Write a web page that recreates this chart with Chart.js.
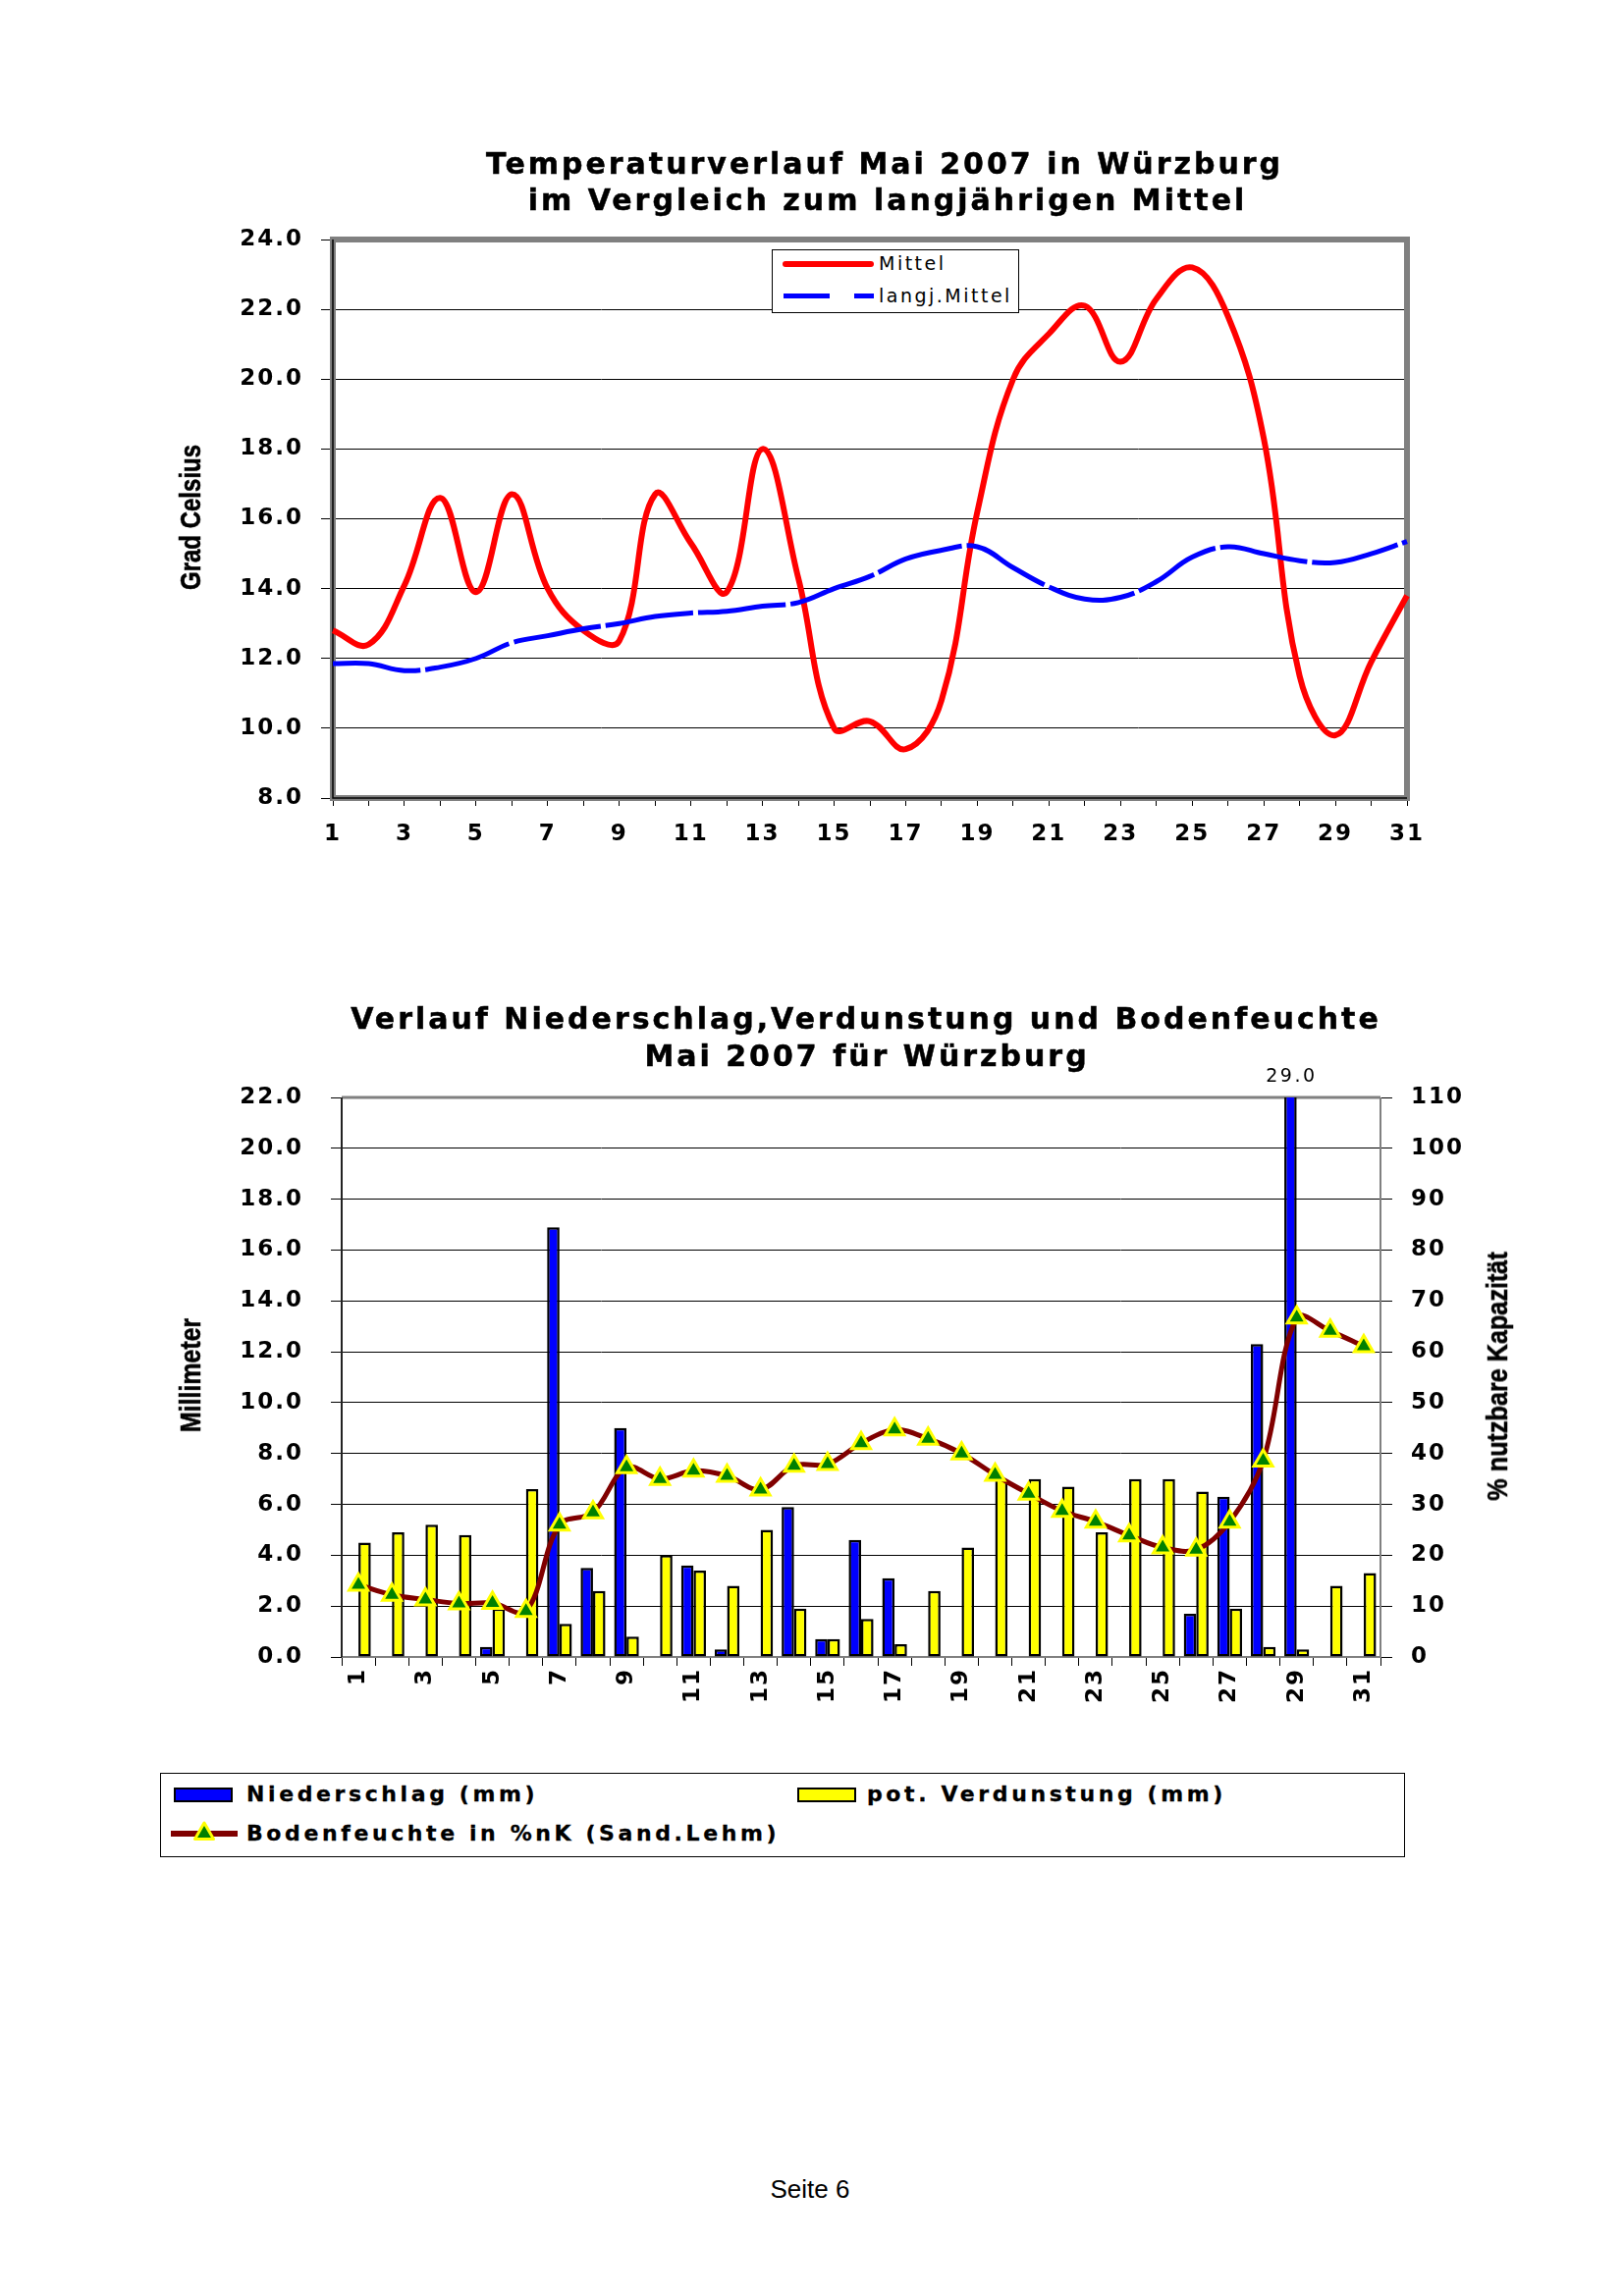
<!DOCTYPE html>
<html>
<head>
<meta charset="utf-8">
<title>Mai 2007 Würzburg</title>
<script src="https://cdn.jsdelivr.net/npm/chart.js@4.4.1/dist/chart.umd.min.js"></script>
<style>
  html, body { margin: 0; padding: 0; background: #fff; }
  #page { position: relative; width: 1653px; height: 2339px; overflow: hidden; background: #fff;
          font-family: "DejaVu Sans", Verdana, sans-serif; color: #000; }
  canvas { position: absolute; left: 0; }
  .title { position: absolute; font-weight: bold; font-size: 30px; line-height: 30px; letter-spacing: 3px;
           white-space: nowrap; transform: translateX(-50%); -webkit-text-stroke: 0.5px #000; }
  .axisTitle { position: absolute; font-family: "Liberation Sans", Arial, sans-serif; font-weight: bold;
               font-size: 30px; line-height: 30px; white-space: nowrap; -webkit-text-stroke: 0.6px #000; }
  .box { position: absolute; border: 1px solid #000; box-sizing: border-box; background: #fff; }
  .ltext { position: absolute; white-space: nowrap; }
  .bold { font-size: 22px; line-height: 22px; font-weight: bold; letter-spacing: 3.6px; -webkit-text-stroke: 0.3px #000; }
  .swatch { position: absolute; box-sizing: border-box; border: 2px solid #000; }
</style>
</head>
<body>
<div id="page">
  <canvas id="tempChart" width="1653" height="900" style="top:0px"></canvas>
  <canvas id="rainChart" width="1653" height="850" style="top:950px"></canvas>

  <div class="title" style="left:901px; top:152px">Temperaturverlauf Mai 2007 in Würzburg</div>
  <div class="title" style="left:904px; top:189px">im Vergleich zum langjährigen Mittel</div>
  <div class="axisTitle" style="left:194px; top:527px; transform:translate(-50%,-50%) rotate(-90deg) scaleX(0.8)">Grad Celsius</div>

  <div class="box" style="left:786px; top:254px; width:252px; height:65px"></div>
  <div style="position:absolute; left:797px; top:266px; width:93px; height:6px; background:#FF0000; border-radius:3px"></div>
  <div class="ltext" style="left:895px; top:259px; font-size:19px; line-height:19px; letter-spacing:2.5px">Mittel</div>
  <div style="position:absolute; left:798px; top:299px; width:47px; height:5px; background:#0000FF"></div>
  <div style="position:absolute; left:870px; top:299px; width:20px; height:5px; background:#0000FF"></div>
  <div class="ltext" style="left:895px; top:292px; font-size:19px; line-height:19px; letter-spacing:2.5px">langj.Mittel</div>

  <div class="title" style="left:882px; top:1023px">Verlauf Niederschlag,Verdunstung und Bodenfeuchte</div>
  <div class="title" style="left:883px; top:1061px">Mai 2007 für Würzburg</div>
  <div class="axisTitle" style="left:194px; top:1401px; transform:translate(-50%,-50%) rotate(-90deg) scaleX(0.83)">Millimeter</div>
  <div class="axisTitle" style="left:1525px; top:1402px; transform:translate(-50%,-50%) rotate(-90deg) scaleX(0.84)">% nutzbare Kapazität</div>

  <div class="box" style="left:163px; top:1806px; width:1268px; height:86px"></div>
  <div class="swatch" style="left:177px; top:1821px; width:60px; height:15px; background:#0000FF"></div>
  <div class="ltext bold" style="left:251px; top:1817px">Niederschlag (mm)</div>
  <div class="swatch" style="left:812px; top:1821px; width:60px; height:15px; background:#FFFF00"></div>
  <div class="ltext bold" style="left:883px; top:1817px">pot. Verdunstung (mm)</div>
  <svg style="position:absolute; left:172px; top:1852px" width="72" height="32">
    <line x1="2" y1="16" x2="70" y2="16" stroke="#800000" stroke-width="6"/>
    <polygon points="36,5 26.5,21.5 45.5,21.5" fill="#008000" stroke="#FFFF00" stroke-width="3" stroke-linejoin="round"/>
  </svg>
  <div class="ltext bold" style="left:251px; top:1857px">Bodenfeuchte in %nK (Sand.Lehm)</div>

  <div class="ltext" style="left:825px; top:2217px; transform:translateX(-50%); font-family:'Liberation Sans', Arial, sans-serif; font-size:26px; line-height:26px">Seite 6</div>
</div>

<script>
var days = ['1','2','3','4','5','6','7','8','9','10','11','12','13','14','15','16',
            '17','18','19','20','21','22','23','24','25','26','27','28','29','30','31'];

// Tagesmittel der Temperatur, Grad Celsius
var mittel = [12.8, 12.4, 14.1, 16.6, 13.9, 16.7, 14.0, 12.8, 12.5, 16.7, 15.3, 13.9, 18.0, 14.3, 10.0, 10.2,
              9.4, 10.8, 16.2, 20.0, 21.3, 22.1, 20.5, 22.3, 23.2, 21.8, 18.3, 11.5, 9.8, 11.9, 13.8];
var langjMittel = [11.85, 11.85, 11.65, 11.75, 12.0, 12.45, 12.65, 12.85, 13.0, 13.2, 13.3, 13.35, 13.5, 13.6, 14.0, 14.35,
                   14.85, 15.1, 15.2, 14.6, 14.05, 13.7, 13.75, 14.2, 14.9, 15.2, 15.0, 14.8, 14.75, 15.0, 15.35];

// Niederschlag und pot. Verdunstung in mm, Bodenfeuchte in % nK
var niederschlag = [0, 0, 0, 0, 0.4, 0, 16.9, 3.5, 9.0, 0, 3.6, 0.3, 0, 5.9, 0.7, 4.6,
                    3.1, 0, 0, 0, 0, 0, 0, 0, 0, 1.7, 6.3, 12.3, 29.0, 0, 0];
var verdunstung = [4.5, 4.9, 5.2, 4.8, 1.9, 6.6, 1.3, 2.6, 0.8, 4.0, 3.4, 2.8, 5.0, 1.9, 0.7, 1.5,
                   0.5, 2.6, 4.3, 7.0, 7.0, 6.7, 4.9, 7.0, 7.0, 6.5, 1.9, 0.4, 0.3, 2.8, 3.3];
var bodenfeuchte = [14.2, 12.2, 11.3, 10.5, 10.6, 9.0, 26.0, 28.4, 37.3, 35.0, 36.6, 35.6, 32.9, 37.6, 37.9, 42.0,
                    44.7, 42.9, 40.0, 35.8, 32.1, 28.7, 26.6, 23.9, 21.5, 21.1, 26.6, 38.6, 66.7, 64.1, 61.1];

Chart.defaults.font.family = '"DejaVu Sans", Verdana, sans-serif';
Chart.defaults.color = '#000';

var tickFont = { size: 23, weight: 'bold' };

var oddDays = function(value, index){
  return index % 2 === 0 ? days[index] : '';
};

// Excel-artige weite Laufweite fuer alle Beschriftungen
var spacing = {
  id: 'spacing',
  beforeDraw: function(chart){
    chart.ctx.letterSpacing = '2px';
  }
};

var frameTemp = {
  id: 'frameTemp',
  beforeDatasetsDraw: function(chart){
    var a = chart.chartArea, ctx = chart.ctx;
    ctx.save();
    ctx.strokeStyle = '#808080';
    ctx.lineWidth = 6;
    ctx.strokeRect(a.left, a.top, a.right - a.left, a.bottom - a.top);
    ctx.strokeStyle = '#000';
    ctx.lineWidth = 1.5;
    ctx.beginPath();
    ctx.moveTo(a.left, a.top);
    ctx.lineTo(a.left, a.bottom);
    ctx.lineTo(a.right, a.bottom);
    ctx.stroke();
    ctx.restore();
  }
};

var frameRain = {
  id: 'frameRain',
  beforeDatasetsDraw: function(chart){
    var a = chart.chartArea, ctx = chart.ctx;
    ctx.save();
    ctx.strokeStyle = '#808080';
    ctx.lineWidth = 3;
    ctx.beginPath();
    ctx.moveTo(a.left, a.top); ctx.lineTo(a.right, a.top);
    ctx.stroke();
    ctx.lineWidth = 2;
    ctx.beginPath();
    ctx.moveTo(a.right, a.top); ctx.lineTo(a.right, a.bottom); ctx.lineTo(a.left, a.bottom);
    ctx.stroke();
    ctx.strokeStyle = '#222';
    ctx.beginPath();
    ctx.moveTo(a.left, a.top); ctx.lineTo(a.left, a.bottom);
    ctx.stroke();
    ctx.restore();
  }
};

// Wert ueber Saeulen schreiben, die oben abgeschnitten sind (29.0)
var overflowLabel = {
  id: 'overflowLabel',
  afterDatasetsDraw: function(chart){
    var ctx = chart.ctx;
    var meta = chart.getDatasetMeta(0);
    var max = chart.scales.y.max;
    ctx.save();
    ctx.font = '19px "DejaVu Sans", Verdana, sans-serif';
    ctx.letterSpacing = '2.5px';
    ctx.fillStyle = '#000';
    ctx.textAlign = 'center';
    ctx.textBaseline = 'middle';
    for (var i = 0; i < niederschlag.length; i++){
      if (niederschlag[i] > max){
        ctx.fillText(niederschlag[i].toFixed(1), meta.data[i].x + 1, chart.chartArea.top - 21);
      }
    }
    ctx.restore();
  }
};

new Chart(document.getElementById('tempChart'), {
  type: 'line',
  data: {
    labels: days,
    datasets: [
      {
        label: 'Mittel',
        data: mittel,
        borderColor: '#FF0000',
        borderWidth: 6,
        pointRadius: 0,
        tension: 0.4,
        fill: false,
        order: 1
      },
      {
        label: 'langj.Mittel',
        data: langjMittel,
        borderColor: '#0000FF',
        borderWidth: 5,
        borderDash: [90, 5],
        pointRadius: 0,
        tension: 0.4,
        fill: false,
        order: 0
      }
    ]
  },
  options: {
    responsive: false,
    animation: false,
    layout: { padding: { left: 0, right: 220, top: 244, bottom: 0 } },
    plugins: { legend: { display: false }, tooltip: { enabled: false } },
    scales: {
      x: {
        offset: false,
        grid: { drawOnChartArea: false, color: '#000', tickLength: 8, tickWidth: 1 },
        border: { display: false },
        ticks: { autoSkip: false, maxRotation: 0, padding: 15, font: tickFont, callback: oddDays },
        afterFit: function(scale){ scale.height = 87; }
      },
      y: {
        min: 8,
        max: 24,
        grid: { color: '#000', lineWidth: 1, tickLength: 12 },
        border: { display: false },
        ticks: { stepSize: 2, padding: 18, font: tickFont, callback: function(v){ return v.toFixed(1); } },
        afterFit: function(scale){ scale.width = 339; }
      }
    }
  },
  plugins: [spacing, frameTemp]
});

new Chart(document.getElementById('rainChart'), {
  type: 'bar',
  data: {
    labels: days,
    datasets: [
      {
        label: 'Niederschlag (mm)',
        data: niederschlag,
        backgroundColor: '#0000FF',
        borderColor: '#000',
        borderWidth: 2.5,
        borderSkipped: false,
        categoryPercentage: 0.74,
        barPercentage: 1,
        order: 1
      },
      {
        label: 'pot. Verdunstung (mm)',
        data: verdunstung,
        backgroundColor: '#FFFF00',
        borderColor: '#000',
        borderWidth: 2.5,
        borderSkipped: false,
        categoryPercentage: 0.74,
        barPercentage: 1,
        order: 1
      },
      {
        type: 'line',
        label: 'Bodenfeuchte in %nK (Sand.Lehm)',
        data: bodenfeuchte,
        yAxisID: 'y2',
        borderColor: '#800000',
        borderWidth: 5,
        tension: 0.35,
        pointStyle: 'triangle',
        pointRadius: 11,
        pointBackgroundColor: '#008000',
        pointBorderColor: '#FFFF00',
        pointBorderWidth: 3,
        order: 0
      }
    ]
  },
  options: {
    responsive: false,
    animation: false,
    layout: { padding: { left: 0, right: 0, top: 168, bottom: 0 } },
    plugins: { legend: { display: false }, tooltip: { enabled: false } },
    scales: {
      x: {
        grid: { offset: true, drawOnChartArea: false, color: '#000', tickLength: 9 },
        border: { display: false },
        ticks: { autoSkip: false, minRotation: 90, maxRotation: 90, padding: 2, font: tickFont, callback: oddDays },
        afterFit: function(scale){ scale.height = 112; }
      },
      y: {
        position: 'left',
        min: 0,
        max: 22,
        grid: { color: '#000', lineWidth: 1, tickLength: 11 },
        border: { display: false },
        ticks: { stepSize: 2, padding: 28, font: tickFont, callback: function(v){ return v.toFixed(1); } },
        afterFit: function(scale){ scale.width = 348; }
      },
      y2: {
        position: 'right',
        min: 0,
        max: 110,
        grid: { drawOnChartArea: false, color: '#000', tickLength: 12 },
        border: { display: false },
        ticks: { stepSize: 10, padding: 19, font: tickFont },
        afterFit: function(scale){ scale.width = 247; }
      }
    }
  },
  plugins: [spacing, frameRain, overflowLabel]
});
</script>
</body>
</html>
